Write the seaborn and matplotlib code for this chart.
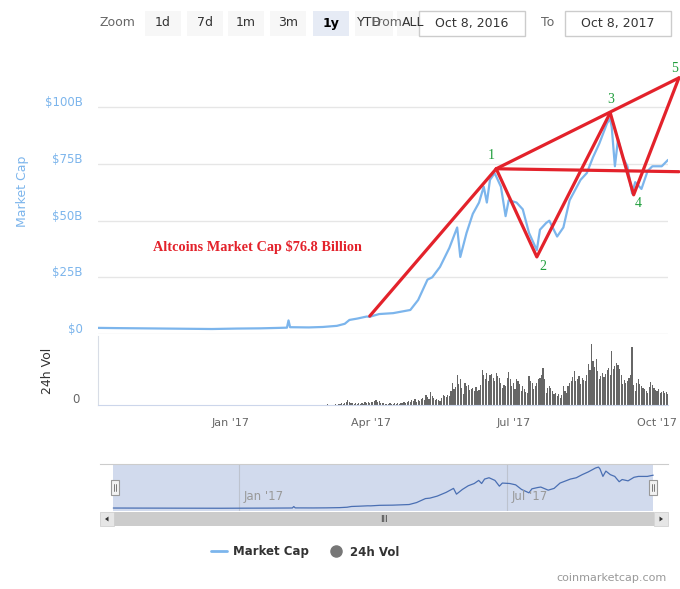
import seaborn as sns
import matplotlib.pyplot as plt
import matplotlib.dates as mdates
import matplotlib.transforms as mtransforms
from matplotlib.lines import Line2D
from matplotlib.patches import Rectangle, Polygon
import pandas as pd

# Altcoin market cap in $B
cap_dates = [
    "2016-10-08", "2016-10-20", "2016-11-05", "2016-11-20", "2016-12-05", "2016-12-20",
    "2017-01-05", "2017-01-20", "2017-02-01", "2017-02-06", "2017-02-07", "2017-02-08", "2017-02-20",
    "2017-03-01", "2017-03-10", "2017-03-15", "2017-03-18", "2017-03-23", "2017-03-29",
    "2017-03-31", "2017-04-06", "2017-04-15", "2017-04-26", "2017-05-01", "2017-05-07",
    "2017-05-10", "2017-05-15", "2017-05-21", "2017-05-26", "2017-05-28",
    "2017-06-01", "2017-06-05", "2017-06-09", "2017-06-12", "2017-06-14", "2017-06-16",
    "2017-06-19", "2017-06-21", "2017-06-23", "2017-06-26", "2017-06-28",
    "2017-07-03", "2017-07-07", "2017-07-11", "2017-07-16", "2017-07-18", "2017-07-22",
    "2017-07-24", "2017-07-29",
    "2017-08-02", "2017-08-06", "2017-08-13", "2017-08-17", "2017-08-21", "2017-08-25", "2017-08-30",
    "2017-09-01", "2017-09-02", "2017-09-04", "2017-09-06", "2017-09-09", "2017-09-12",
    "2017-09-15", "2017-09-17", "2017-09-21", "2017-09-25", "2017-09-28",
    "2017-10-04", "2017-10-08",
]
cap_values = [
    2.7, 2.6, 2.5, 2.4, 2.3, 2.2,
    2.4, 2.5, 2.7, 2.8, 6.0, 3.0, 2.9,
    3.1, 3.6, 4.5, 6.2, 6.8, 7.7,
    7.6, 8.8, 9.2, 10.6, 15, 24, 25, 29.6, 38, 47, 34,
    44.6, 53, 58, 65, 58, 68, 71, 68, 65, 52, 59,
    58, 55, 44.6, 37, 46, 49, 50, 43,
    47, 59, 68, 71, 78, 84, 93,
    95, 91, 74, 86, 78, 74, 62, 67, 64, 72, 74,
    74, 76.8,
]

# daily 24h volume (relative bar heights), from 1 Mar 2017
vol_start = "2017-03-01"
vol_values = [
    # Mar
    0.3, 0.3, 0.5, 1.0, 0.4, 0.3, 0.5, 0.3, 0.6, 0.4, 1.5, 1.0, 2.0, 1.5, 2.5, 3.0,
    5.0, 3.5, 2.0, 2.5, 1.5, 2.0, 1.0, 2.5, 1.5, 2.0, 1.5, 3.0, 2.5, 3.0, 2.0,
    # Apr
    3, 3.5, 4, 5, 3, 4, 2.5, 2, 2.5, 1.5, 1.5, 1, 2, 1.5, 1, 2, 1.5, 2, 1.5, 2.5,
    2, 3, 2.5, 3, 4, 3, 5, 4, 6, 3,
    # May
    5, 4, 6, 7, 5, 10, 8, 6, 13, 9, 7, 5, 6, 5, 4, 7, 10, 9, 8, 10, 9, 14, 22, 16,
    18, 30, 21, 26, 17, 11, 22,
    # Jun
    19, 20, 15, 16, 17, 14, 18, 14, 15, 20, 35, 30, 26, 32, 24, 30, 31, 27, 24, 32,
    29, 27, 22, 17, 20, 19, 27, 33, 26, 19,
    # Jul
    22, 16, 26, 24, 21, 14, 19, 16, 13, 12, 29, 24, 22, 16, 19, 22, 26, 27, 30, 37,
    26, 12, 17, 19, 17, 14, 11, 12, 9, 11, 7,
    # Aug
    10, 19, 14, 12, 19, 22, 24, 28, 34, 24, 26, 29, 21, 27, 25, 24, 30, 41, 35, 61,
    44, 38, 46, 34, 26, 29, 32, 28, 31, 35, 37,
    # Sep
    30, 54, 36, 39, 42, 40, 36, 30, 21, 25, 22, 24, 27, 30, 58, 20, 14, 22, 26, 21,
    19, 17, 16, 14, 12, 18, 23, 20, 17, 15,
    # Oct
    14, 16, 12, 13, 14, 12, 13, 11,
]

# hand-drawn wave count overlay
wave_dates = ["2017-03-31", "2017-06-20", "2017-07-16", "2017-09-01", "2017-09-16", "2017-10-15"]
wave_values = [7.9, 72.9, 34.0, 97.6, 61.4, 113.0]
wave_labels = ["", "1", "2", "3", "4", "5"]
neck_dates = ["2017-06-20", "2017-10-15"]
neck_values = [72.9, 71.6]

cap = pd.DataFrame({"date": pd.to_datetime(cap_dates), "cap": cap_values})
vol = pd.DataFrame({"date": pd.date_range(vol_start, periods=len(vol_values), freq="D"),
                    "vol": vol_values})
t0, t1 = pd.Timestamp("2016-10-08"), pd.Timestamp("2017-10-08")

sns.set_style("white")
plt.rcParams["font.family"] = ["DejaVu Sans"]

W, H = 680, 589
fig = plt.figure(figsize=(6.8, 5.89), dpi=100)


def box(l, t, r, b):
    return [l / W, 1 - b / H, (r - l) / W, (b - t) / H]


RED = "#e3222b"
GREEN = "#1f9e3c"
BLUE = "#7cb5ec"

# ---- main market cap panel
ax = fig.add_axes(box(98, 96, 668, 334))
sns.lineplot(data=cap, x="date", y="cap", ax=ax, color=BLUE, linewidth=1.6, zorder=3)
ax.set_xlim(t0, t1)
ax.set_ylim(0, 105)
ax.set_yticks([0, 25, 50, 75, 100])
ax.set_yticklabels(["\\$0", "\\$25B", "\\$50B", "\\$75B", "\\$100B"])
ax.grid(axis="y", color="#e6e6e6", lw=1)
ax.grid(axis="x", visible=False)
ax.tick_params(axis="y", length=0, pad=11, labelsize=8.5, labelcolor=BLUE)
ax.tick_params(axis="x", bottom=False, labelbottom=False)
for s in ax.spines.values():
    s.set_visible(False)
ax.set_xlabel("")
ax.set_ylabel("Market Cap", color=BLUE, fontsize=9)
ax.yaxis.set_label_coords(-0.121, 0.6)
up = mtransforms.ScaledTranslation(0, 0.06, fig.dpi_scale_trans)
for lab in ax.get_yticklabels():
    lab.set_transform(lab.get_transform() + up)

# wave drawing
wd = pd.to_datetime(wave_dates)
ax.plot(wd, wave_values, color=RED, lw=2.3, clip_on=False, zorder=5)
ax.plot([wd[1], wd[5]], [wave_values[1], wave_values[5]], color=RED, lw=2.3, clip_on=False, zorder=5)
ax.plot(pd.to_datetime(neck_dates), neck_values, color=RED, lw=2.3, clip_on=False, zorder=5)
offs = [(0, 0), (-5, 13), (6, -10), (0, 13), (5, -9), (-4, 9)]
for d, v, lbl, o in zip(wd, wave_values, wave_labels, offs):
    if lbl:
        ax.annotate(lbl, (d, v), xytext=o, textcoords="offset pixels", ha="center", va="center",
                    color=GREEN, fontsize=10, family="Liberation Serif", annotation_clip=False)
ax.text(pd.Timestamp("2017-01-18"), 38.4, "Altcoins Market Cap \\$76.8 Billion", ha="center",
        va="center", color=RED, fontsize=10.3, weight="bold", family="Liberation Serif")

# ---- volume panel
axv = fig.add_axes(box(98, 336, 668, 405))
axv.bar(vol["date"], vol["vol"], width=0.75, color="#666666", linewidth=0)
axv.set_xlim(t0, t1)
axv.set_ylim(0, 69)
axv.set_yticks([0])
axv.set_yticklabels(["0"])
axv.tick_params(axis="y", length=0, pad=13, labelsize=8.5, labelcolor="#666666")
for lab in axv.get_yticklabels():
    lab.set_transform(lab.get_transform() + mtransforms.ScaledTranslation(0, 0.07, fig.dpi_scale_trans))
axv.set_xticks(pd.to_datetime(["2017-01-01", "2017-04-01", "2017-07-01", "2017-10-01"]))
axv.xaxis.set_major_formatter(mdates.DateFormatter("%b '%y"))
axv.tick_params(axis="x", direction="out", length=6, color="#ccd6eb", labelsize=8,
                labelcolor="#666666", pad=3)
for k in ["top", "right"]:
    axv.spines[k].set_visible(False)
axv.spines["left"].set_color("#d8dde6")
axv.spines["bottom"].set_color("#ccd6eb")
axv.set_ylabel("24h Vol", color="#333333", fontsize=9)
axv.yaxis.set_label_coords(-0.078, 0.5)

# ---- navigator
axn = fig.add_axes(box(100, 464, 668, 511))
axn.axvspan(t0, t1, color="#d1daed", lw=0, zorder=0)
sns.lineplot(data=cap, x="date", y="cap", ax=axn, color="#4a6fb3", linewidth=0.9, zorder=3)
axn.set_xlim(pd.Timestamp("2016-09-29"), pd.Timestamp("2017-10-18"))
axn.set_ylim(-4, 102)
nav_tr = mtransforms.blended_transform_factory(axn.transData, axn.transAxes)
for d in ["2017-01-01", "2017-07-01"]:
    axn.axvline(pd.Timestamp(d), color="#bdc3cf", lw=0.8, zorder=1)
    axn.text(pd.Timestamp(d) + pd.Timedelta(days=3), 0.3, pd.Timestamp(d).strftime("%b '%y"),
             transform=nav_tr, color="#999999", fontsize=8.5, va="center", ha="left")
axn.set_xticks([])
axn.set_yticks([])
axn.set_xlabel("")
axn.set_ylabel("")
for k in ["bottom", "left", "right"]:
    axn.spines[k].set_visible(False)
axn.spines["top"].set_color("#cccccc")

# ---- UI chrome (pixel coordinates)
ui = fig.add_axes([0, 0, 1, 1], zorder=10)
ui.set_xlim(0, W)
ui.set_ylim(H, 0)
ui.axis("off")

ui.text(100, 23, "Zoom", color="#666666", fontsize=9, va="center")
buttons = [("1d", 145, 181), ("7d", 187, 223), ("1m", 228, 264), ("3m", 270, 306),
           ("1y", 313, 349), ("YTD", 355, 393), ("ALL", 397, 433)]
for name, l, r in buttons:
    sel = name == "1y"
    ui.add_patch(Rectangle((l, 11), r - l, 25, fc="#e6ebf5" if sel else "#f7f7f7", ec="none"))
    if name == "YTD":
        ui.text(357, 23, "YTD", color="#333333", fontsize=9, va="center", ha="left")
    elif name == "ALL":
        ui.text(402, 23, "ALL", color="#333333", fontsize=9, va="center", ha="left")
    else:
        ui.text((l + r) / 2, 23, name, color="#000000" if sel else "#333333", fontsize=9,
                va="center", ha="center", weight="bold" if sel else "normal")
ui.text(372, 23, "From", color="#666666", fontsize=9, va="center", ha="left")
ui.add_patch(Rectangle((419, 11), 106, 25, fc="white", ec="#cccccc", lw=1))
ui.text(472, 23, "Oct 8, 2016", color="#333333", fontsize=9, va="center", ha="center")
ui.text(541, 23, "To", color="#666666", fontsize=9, va="center", ha="left")
ui.add_patch(Rectangle((565, 11), 106, 25, fc="white", ec="#cccccc", lw=1))
ui.text(618, 23, "Oct 8, 2017", color="#333333", fontsize=9, va="center", ha="center")

# navigator handles
for x in (115, 653):
    ui.add_patch(Rectangle((x - 4, 480), 8, 15, fc="#f2f2f2", ec="#999999", lw=0.8))
    ui.plot([x - 1.3, x - 1.3], [484, 491], color="#666666", lw=0.6)
    ui.plot([x + 1.3, x + 1.3], [484, 491], color="#666666", lw=0.6)

# scrollbar
ui.add_patch(Rectangle((100, 512), 568, 14, fc="#f2f2f2", ec="none"))
ui.add_patch(Rectangle((114, 512), 540, 14, fc="#cccccc", ec="none"))
ui.add_patch(Rectangle((100, 512), 14, 14, fc="#e6e6e6", ec="#cccccc", lw=0.5))
ui.add_patch(Rectangle((654, 512), 14, 14, fc="#e6e6e6", ec="#cccccc", lw=0.5))
ui.add_patch(Polygon([(105, 519), (108.5, 516.5), (108.5, 521.5)], closed=True, fc="#333333", ec="none"))
ui.add_patch(Polygon([(663, 519), (659.5, 516.5), (659.5, 521.5)], closed=True, fc="#333333", ec="none"))
ui.text(384, 519, "III", color="#333333", fontsize=6, va="center", ha="center")

ui.text(667, 578, "coinmarketcap.com", color="#999999", fontsize=8, va="center", ha="right")

handles = [Line2D([], [], color=BLUE, lw=2),
           Line2D([], [], marker="o", ls="none", color="#777777", markersize=8)]
fig.legend(handles, ["Market Cap", "24h Vol"], loc="center", bbox_to_anchor=(305 / W, 1 - 552 / H),
           ncol=2, frameon=False, prop={"weight": "bold", "size": 8.5}, labelcolor="#333333",
           handlelength=1.4, columnspacing=1.6, handletextpad=0.5)

fig.savefig("out.png", dpi=100)
